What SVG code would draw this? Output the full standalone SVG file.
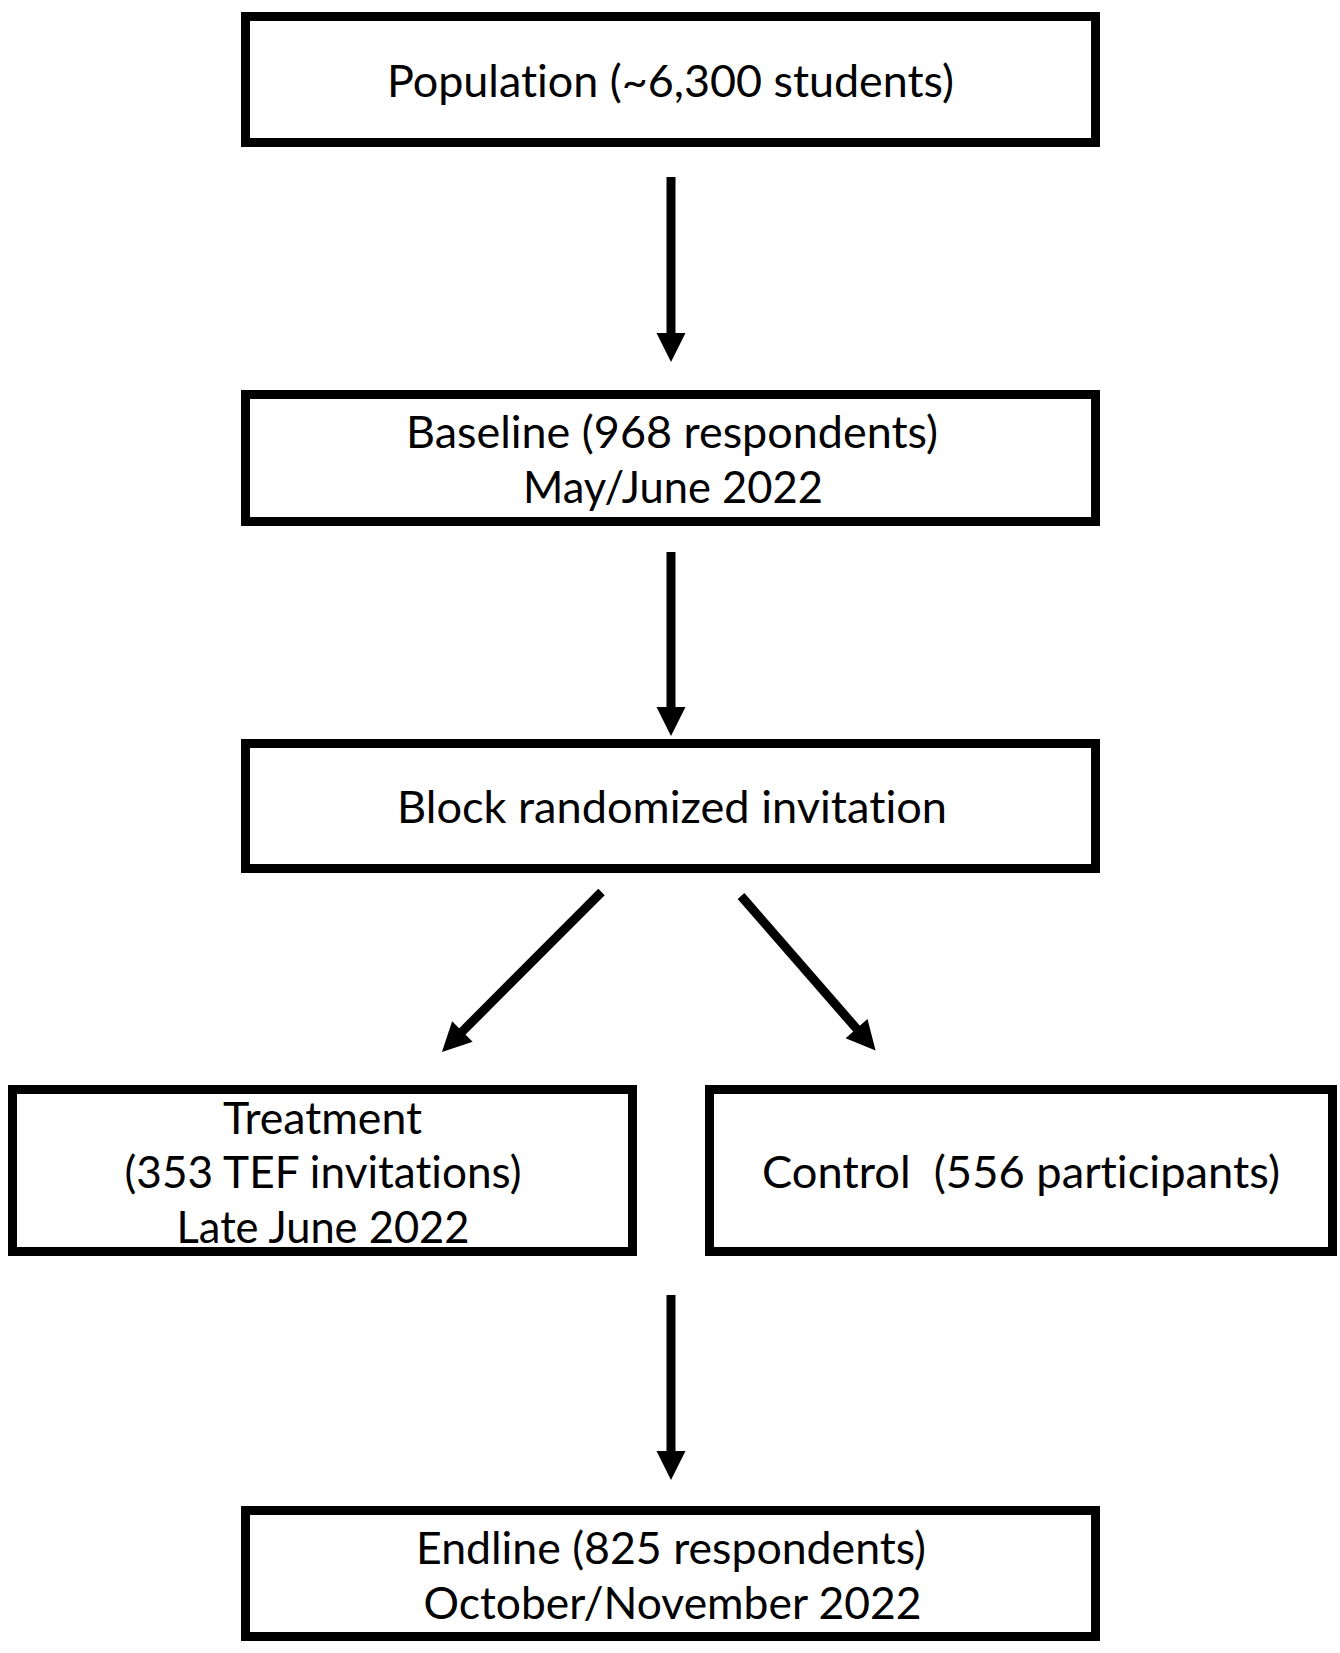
<svg xmlns="http://www.w3.org/2000/svg" width="1340" height="1653" viewBox="0 0 1340 1653">
<style>
.box{fill:#ffffff;stroke:#000000;stroke-width:9}
.lbl{font-family:Lato,"Open Sans","Liberation Sans",sans-serif;font-size:45px;fill:#000000;text-anchor:middle;font-variant-ligatures:none;font-feature-settings:"liga" 0,"clig" 0,"dlig" 0}
.conn{stroke:#000000;stroke-width:9;fill:none;stroke-linecap:butt}
</style>
<defs>
<marker id="ah" markerUnits="userSpaceOnUse" viewBox="0 -15 30 30" markerWidth="30" markerHeight="30" refX="1" refY="0" orient="auto" overflow="visible">
<path d="M0,-14.5 L29,0 L0,14.5 Z" fill="#000000"/>
</marker>
</defs>
<rect width="1340" height="1653" fill="#ffffff"/>
<g id="connectors">
<line class="conn" x1="671" y1="177" x2="671" y2="334" marker-end="url(#ah)"/>
<line class="conn" x1="671" y1="552" x2="671" y2="708" marker-end="url(#ah)"/>
<line class="conn" x1="601.5" y1="892" x2="461.7" y2="1032.1" marker-end="url(#ah)"/>
<line class="conn" x1="741" y1="896" x2="857.2" y2="1029.4" marker-end="url(#ah)"/>
<line class="conn" x1="671" y1="1295" x2="671" y2="1452" marker-end="url(#ah)"/>
</g>
<g id="population">
<rect class="box" x="245.5" y="16.5" width="850" height="126"/>
<text class="lbl" x="670.5" y="97" textLength="567" lengthAdjust="spacingAndGlyphs">Population (~6,300 students)</text>
</g>
<g id="baseline">
<rect class="box" x="245.5" y="394.5" width="850" height="127"/>
<text class="lbl" x="672" y="448" textLength="532" lengthAdjust="spacingAndGlyphs">Baseline (968 respondents)</text>
<text class="lbl" x="673" y="503" textLength="300" lengthAdjust="spacingAndGlyphs">May/June 2022</text>
</g>
<g id="randomization">
<rect class="box" x="245.5" y="743.5" width="850" height="125"/>
<text class="lbl" x="672" y="823" textLength="550" lengthAdjust="spacingAndGlyphs">Block randomized invitation</text>
</g>
<g id="treatment">
<rect class="box" x="12.5" y="1089.5" width="620" height="162"/>
<text class="lbl" x="322.5" y="1133.5" textLength="199" lengthAdjust="spacingAndGlyphs">Treatment</text>
<text class="lbl" x="323" y="1188" textLength="397" lengthAdjust="spacingAndGlyphs">(353 TEF invitations)</text>
<text class="lbl" x="323" y="1242.5" textLength="293" lengthAdjust="spacingAndGlyphs">Late June 2022</text>
</g>
<g id="control">
<rect class="box" x="709.5" y="1089.5" width="623" height="162"/>
<text class="lbl" x="1021" y="1188" textLength="518" lengthAdjust="spacingAndGlyphs" xml:space="preserve">Control  (556 participants)</text>
</g>
<g id="endline">
<rect class="box" x="245.5" y="1510.5" width="850" height="126"/>
<text class="lbl" x="671" y="1563.5" textLength="510" lengthAdjust="spacingAndGlyphs">Endline (825 respondents)</text>
<text class="lbl" x="672.5" y="1618.5" textLength="498" lengthAdjust="spacingAndGlyphs">October/November 2022</text>
</g>
</svg>
